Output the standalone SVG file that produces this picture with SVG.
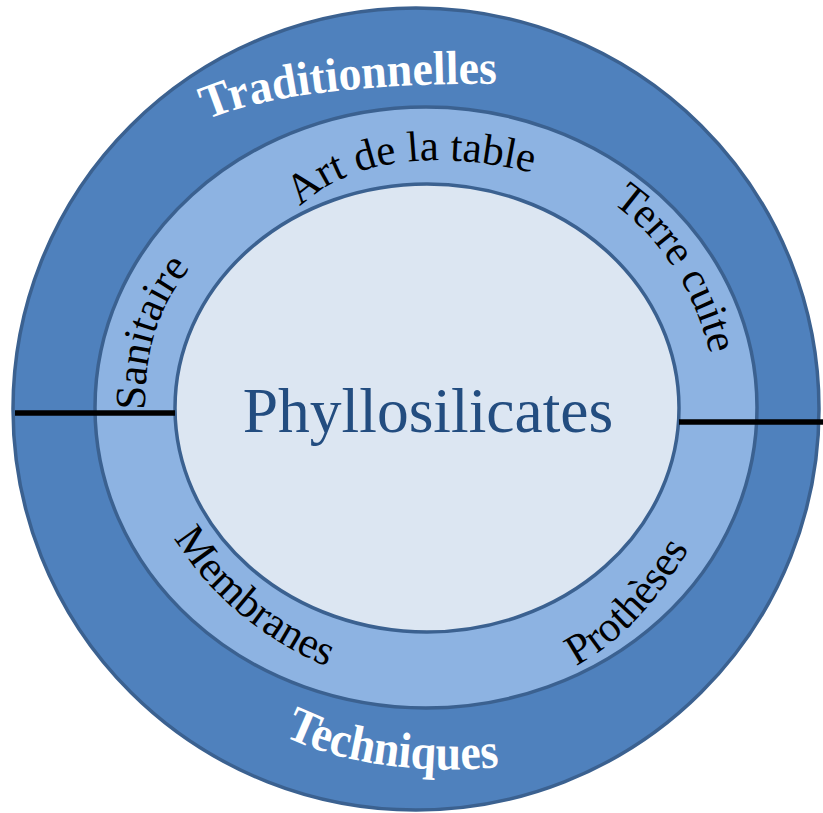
<svg xmlns="http://www.w3.org/2000/svg" width="823" height="813" viewBox="0 0 823 813">
  <style>
    .ring { stroke: #3B6190; stroke-width: 3.5; }
    .outer { fill: #4F81BD; }
    .middle { fill: #8DB3E2; }
    .inner { fill: #DCE6F2; }
    .sep { stroke: #000000; stroke-width: 5.5; fill: none; }
    .band { font-family: "Liberation Serif", "Times New Roman", serif; font-weight: bold; fill: #FFFFFF; }
    .item { font-family: "Liberation Serif", "Times New Roman", serif; font-size: 43px; fill: #000000; }
    .core { font-family: "Liberation Serif", "Times New Roman", serif; font-size: 63.5px; fill: #234D80; }
  </style>
  <defs>
    <path id="p-trad" d="M 207 120 C 265 94, 380 82, 512 84"/>
    <path id="p-tech" d="M 284 736 C 340 764, 430 777, 515 765"/>
    <path id="p-art" d="M 300 207 C 342 166, 422 143, 545 176"/>
    <path id="p-terre" d="M 612 203 Q 694 262 716 380"/>
    <path id="p-sani" d="M 145 410 C 145 352, 156 302, 203 254"/>
    <path id="p-memb" d="M 174 538 Q 232 630 340 672"/>
    <path id="p-prot" d="M 576 666 Q 645 630 700 530"/>
  </defs>

  <!-- outer ring: application families -->
  <g id="ring-outer">
    <ellipse class="ring outer" cx="416" cy="409" rx="403" ry="401"/>
    <text class="band" font-size="48"><textPath href="#p-trad" textLength="294" lengthAdjust="spacingAndGlyphs">Traditionnelles</textPath></text>
    <text class="band" font-size="50"><textPath href="#p-tech" textLength="220" lengthAdjust="spacingAndGlyphs">Techniques</textPath></text>
  </g>

  <!-- middle ring: applications -->
  <g id="ring-middle">
    <ellipse class="ring middle" cx="426" cy="407.5" rx="331" ry="300.5"/>
  </g>

  <!-- core -->
  <g id="core">
    <ellipse class="ring inner" cx="427" cy="408" rx="252" ry="224"/>
    <text class="core" x="428" y="432" text-anchor="middle">Phyllosilicates</text>
  </g>

  <g id="label-art"><text class="item"><textPath href="#p-art">Art de la table</textPath></text></g>
  <g id="label-terre"><text class="item"><textPath href="#p-terre">Terre cuite</textPath></text></g>
  <g id="label-sanitaire"><text class="item"><textPath href="#p-sani">Sanitaire</textPath></text></g>
  <g id="label-membranes"><text class="item"><textPath href="#p-memb">Membranes</textPath></text></g>
  <g id="label-protheses"><text class="item"><textPath href="#p-prot">Prothèses</textPath></text></g>

  <!-- dividers between the two families -->
  <g id="connectors">
    <line class="sep" x1="15" y1="413" x2="175" y2="413"/>
    <line class="sep" x1="679" y1="422" x2="823" y2="422"/>
  </g>
</svg>
